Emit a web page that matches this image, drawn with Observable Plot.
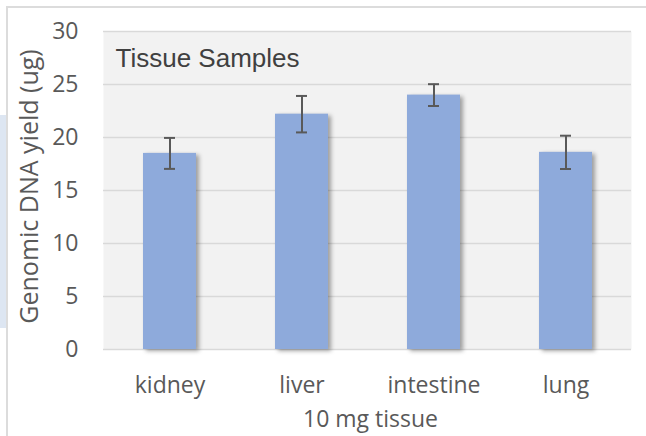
<!DOCTYPE html>
<html>
<head>
<meta charset="utf-8">
<script src="https://cdn.jsdelivr.net/npm/d3@7"></script>
<script src="https://cdn.jsdelivr.net/npm/@observablehq/plot@0.6"></script>
<style>
  html, body { margin: 0; padding: 0; background: #ffffff; }
  #wrap { position: relative; width: 646px; height: 436px; overflow: hidden; background: #ffffff; }
  #frame { position: absolute; left: 6px; top: 6px; width: 700px; height: 500px;
           border-left: 2px solid #dcdcdc; border-top: 2px solid #dcdcdc; }
  #strip { position: absolute; left: 0; top: 115px; width: 6px; height: 213px; background: #dde6f2; }
  #chart { position: absolute; left: 0; top: 0; }
</style>
</head>
<body>
<div id="wrap">
  <div id="frame"></div>
  <div id="strip"></div>
  <div id="chart"></div>
</div>
<script>
const tissues = ["kidney", "liver", "intestine", "lung"];
const yields = [18.5, 22.2, 24.0, 18.6];
const errors = [1.46, 1.72, 1.03, 1.57];
const yTicks = [0, 5, 10, 15, 20, 25, 30];
const chartTitle = "Tissue Samples";
const yLabel = "Genomic DNA yield (ug)";
const xLabel = "10 mg tissue";

const data = tissues.map((t, i) => ({tissue: t, value: yields[i], lo: yields[i] - errors[i], hi: yields[i] + errors[i]}));

const textColor = "#595959";

const chart = Plot.plot({
  width: 646,
  height: 436,
  marginLeft: 103,
  marginRight: 15,
  marginTop: 31,
  marginBottom: 87,
  style: {fontFamily: "Open Sans", fontSize: "23px", color: textColor, background: "transparent", overflow: "visible"},
  x: {domain: tissues, paddingInner: 0.6, paddingOuter: 0.3, label: null},
  y: {domain: [0, 30], label: null},
  marks: [
    Plot.frame({fill: "#f2f2f2", stroke: null}),
    Plot.ruleY(yTicks, {stroke: "#d9d9d9", strokeWidth: 1.6}),
    Plot.barY(data, {x: "tissue", y: "value", fill: "#8eaadb"}),
    Plot.ruleX(data, {x: "tissue", y1: "lo", y2: "hi", stroke: "#595959", strokeWidth: 2}),
    Plot.tickY(data, {x: "tissue", y: "lo", stroke: "#595959", strokeWidth: 2, insetLeft: 21, insetRight: 21}),
    Plot.tickY(data, {x: "tissue", y: "hi", stroke: "#595959", strokeWidth: 2, insetLeft: 21, insetRight: 21}),
    Plot.axisY(yTicks, {tickSize: 0, tickPadding: 25, fontSize: 23, fill: textColor, label: null}),
    Plot.axisX({tickSize: 0, tickPadding: 27, fontSize: 23, fill: textColor, label: null}),
    Plot.text([yLabel], {frameAnchor: "left", textAnchor: "middle", lineAnchor: "middle", dx: -74, dy: -4, rotate: -90, fontSize: 25, fill: textColor, fontFamily: "Open Sans"}),
    Plot.text([xLabel], {frameAnchor: "bottom", textAnchor: "middle", lineAnchor: "middle", dx: 3, dy: 70, fontSize: 23, fill: textColor, fontFamily: "Open Sans"}),
    Plot.text([chartTitle], {frameAnchor: "top-left", textAnchor: "start", lineAnchor: "top", dx: 12, dy: 17, fontSize: 26, fill: "#404040", fontFamily: "Liberation Sans"})
  ]
});

document.getElementById("chart").appendChild(chart);
chart.querySelectorAll('g[aria-label="bar"]').forEach(g => {
  g.style.filter = "drop-shadow(3px 2px 2px rgba(0,0,0,0.35))";
});
</script>
</body>
</html>
